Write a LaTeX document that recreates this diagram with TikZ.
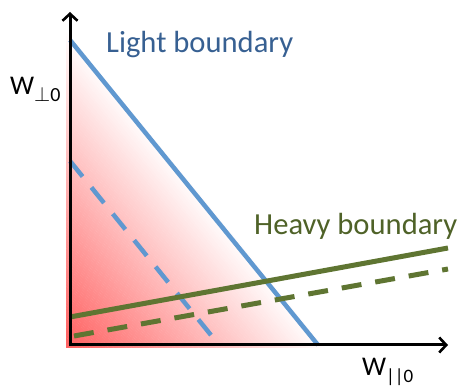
\documentclass[tikz,border=0pt]{standalone}
\usepackage{fontspec}
\setmainfont{Carlito}
\usetikzlibrary{arrows.meta}
\definecolor{bluetext}{RGB}{55,96,146}
\definecolor{blueline}{RGB}{96,152,208}
\definecolor{greentext}{RGB}{79,98,40}
\definecolor{greenline}{RGB}{95,117,50}
\definecolor{redc}{RGB}{255,100,100}
\tikzset{
  axisline/.style={line width=3pt, -{Straight Barb[length=7pt,width=15pt,line width=2.6pt]}},
  blueln/.style={blueline, line width=4.5pt},
  greenln/.style={greenline, line width=5pt},
  dashpat/.style={dash pattern=on 20pt off 14pt},
  bigtext/.style={inner sep=0pt, anchor=base west, font=\fontsize{30.6}{36}\selectfont},
  axlab/.style={inner sep=0pt, anchor=base west, font=\fontsize{27}{30}\selectfont},
}
\begin{document}
\begin{tikzpicture}[x=1pt,y=1pt]
\useasboundingbox (0,0) rectangle (461,388);
% coordinates
\coordinate (O) at (70,43);
\coordinate (Ytop) at (70,376);
\coordinate (Xend) at (448,43);
\coordinate (bs1) at (70,348);
\coordinate (bs2) at (318,43);
\coordinate (bd1) at (70,227);
\coordinate (bd2) at (219,43);
\coordinate (gs1) at (70,71);
\coordinate (gs2) at (448,140);
\coordinate (gd1) at (74,52);
\coordinate (gd2) at (448,119);
% gradient region
\begin{scope}
  \clip (66,40) -- (66,356) -- (327,40) -- cycle;
  \begin{scope}[shift={(70,43)}, rotate=-50.9]
    \fill[redc] (-400,-20) rectangle (400,0.5);
    \foreach \i in {0,2,...,198} {
      \pgfmathsetmacro\p{max(0,100*(1-\i/196))}
      \fill[redc!\p!white] (-400,\i) rectangle (400,\i+2.3);
    }
  \end{scope}
\end{scope}
% lines
\draw[blueln, dashpat] (bd1) -- (bd2);
\draw[blueln] (bs1) -- (bs2);
\draw[greenln] (gs1) -- (gs2);
\draw[greenln, dashpat] (gd1) -- (gd2);
% axes
\draw[axisline] (70,41.5) -- (Ytop);
\draw[axisline] (68.5,43) -- (Xend);
% labels
\node[bigtext, text=bluetext] (light) at (106,335) {Light boundary};
\node[bigtext, text=greentext] (heavy) at (254,153) {Heavy boundary};
\node[axlab] (wperp) at (10,293) {W\raisebox{-7pt}{\fontsize{20}{20}\selectfont$\perp$0}};
\node[axlab] (wpar) at (362,12) {W\raisebox{-7pt}{\fontsize{19}{19}\selectfont||0}};
\end{tikzpicture}
\end{document}
